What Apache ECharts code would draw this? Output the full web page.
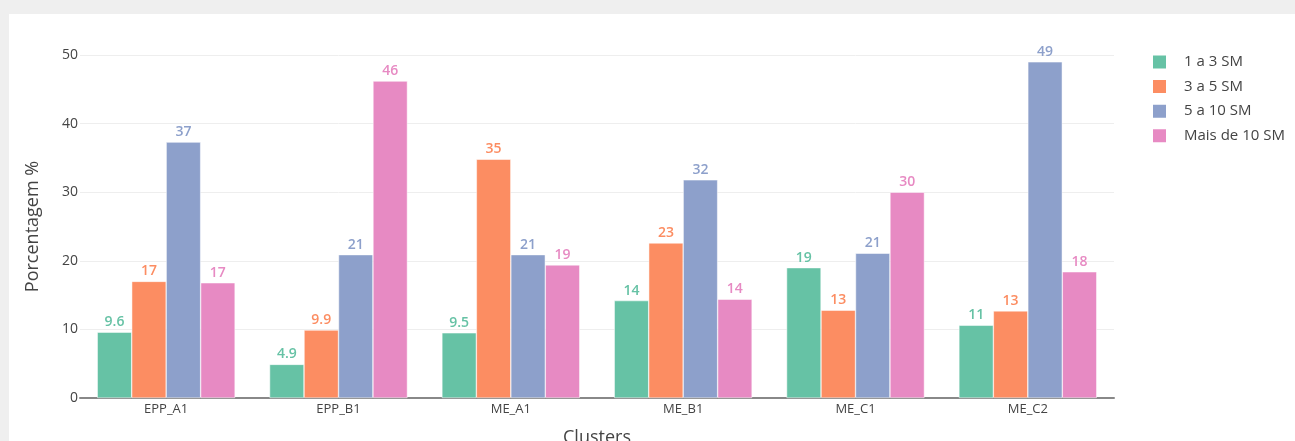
<!DOCTYPE html>
<html>
<head>
<meta charset="utf-8">
<script src="https://cdn.jsdelivr.net/npm/echarts@6/dist/echarts.min.js"></script>
<style>
  html, body { margin: 0; padding: 0; background: #efefef; }
  #panel { position: absolute; left: 9px; top: 14px; width: 1286px; height: 427px; background: #fff; }
  #main { position: absolute; left: 0; top: 0; width: 1295px; height: 441px; }
</style>
</head>
<body>
<div id="panel"></div>
<div id="main"></div>
<script>
const categories = ['EPP_A1', 'EPP_B1', 'ME_A1', 'ME_B1', 'ME_C1', 'ME_C2'];
const seriesNames = ['1 a 3 SM', '3 a 5 SM', '5 a 10 SM', 'Mais de 10 SM'];
const s1a3 = [9.6, 4.9, 9.5, 14.2, 19.0, 10.6];
const s3a5 = [17.0, 9.9, 34.8, 22.6, 12.8, 12.7];
const s5a10 = [37.3, 20.9, 20.9, 31.8, 21.1, 49.0];
const sMais10 = [16.8, 46.2, 19.4, 14.4, 30.0, 18.4];
const colors = ['#66c2a5', '#fc8d62', '#8da0cb', '#e78ac3'];

const font = '"Open Sans", "DejaVu Sans", sans-serif';
const chart = echarts.init(document.getElementById('main'));

const allData = [s1a3, s3a5, s5a10, sMais10];

const option = {
  backgroundColor: 'transparent',
  textStyle: { fontFamily: font },
  grid: { left: 80, right: 181, top: 55, bottom: 43, outerBoundsMode: 'none', containLabel: false },
  legend: {
    orient: 'vertical',
    left: 1151,
    top: 53.5,
    padding: 0,
    itemWidth: 15,
    itemHeight: 15,
    itemGap: 7.6,
    icon: 'rect',
    textStyle: { fontFamily: font, fontSize: 15, lineHeight: 15, color: '#444', padding: [0, 0, 0, 12] },
    data: seriesNames
  },
  xAxis: {
    type: 'category',
    data: categories,
    name: 'Clusters',
    nameLocation: 'middle',
    nameGap: 31,
    nameTextStyle: { fontFamily: font, fontSize: 18, color: '#444' },
    axisLine: { lineStyle: { color: '#888', width: 2 } },
    axisTick: { show: false },
    axisLabel: { fontFamily: font, fontSize: 13, color: '#444', margin: 5 }
  },
  yAxis: {
    type: 'value',
    min: 0,
    max: 50,
    interval: 10,
    name: 'Porcentagem %',
    nameLocation: 'middle',
    nameGap: 38,
    nameTextStyle: { fontFamily: font, fontSize: 18, color: '#444' },
    axisLine: { show: false },
    axisTick: { show: false },
    splitLine: { lineStyle: { color: '#eeeeee', width: 1 } },
    axisLabel: { fontFamily: font, fontSize: 14, color: '#444', margin: 2 }
  },
  series: seriesNames.map((name, i) => ({
    name: name,
    type: 'bar',
    data: allData[i],
    barGap: '0%',
    barCategoryGap: '20%',
    itemStyle: { color: colors[i], borderColor: '#ffffff', borderWidth: 0.5 },
    label: {
      show: true,
      position: 'top',
      distance: 3,
      color: colors[i],
      fontFamily: font,
      fontSize: 14,
      fontWeight: 600,
      formatter: p => Number(p.value).toPrecision(2)
    }
  }))
};

chart.setOption(option);
</script>
</body>
</html>
